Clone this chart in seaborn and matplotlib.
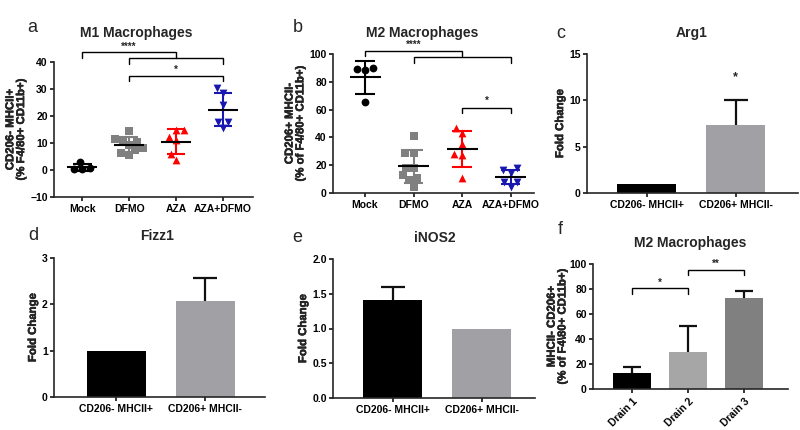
import numpy as np
import pandas as pd
import matplotlib
matplotlib.use("Agg")
import matplotlib.pyplot as plt
import matplotlib.patheffects as pe
import seaborn as sns

# ---------------- data ----------------
groups = ["Mock", "DFMO", "AZA", "AZA+DFMO"]
m1_mock = [0.2, 0.4, 0.6, 3.0]
m1_dfmo = [14.6, 11.4, 11.1, 10.5, 9.3, 8.0, 7.4, 6.4, 5.6]
m1_aza = [14.8, 14.8, 12.3, 11.1, 5.9, 3.7]
m1_aza_dfmo = [30.2, 28.4, 24.1, 17.8, 17.8, 15.5]
m2_mock = [88.5, 89.0, 90.0, 65.5]
m2_dfmo = [41.2, 28.5, 28.5, 18.2, 18.2, 12.9, 10.5, 9.3, 4.5]
m2_aza = [47.0, 43.0, 35.0, 28.0, 27.5, 10.6]
m2_aza_dfmo = [16.5, 17.7, 14.2, 8.1, 8.1, 4.5]

gene_groups = ["CD206- MHCII+", "CD206+ MHCII-"]
arg1_mean = [1.0, 7.37]
arg1_err = [0.0, 2.63]
fizz1_mean = [1.0, 2.07]
fizz1_err = [0.0, 0.50]
inos2_mean = [1.41, 1.0]
inos2_err = [0.18, 0.0]

drains = ["Drain 1", "Drain 2", "Drain 3"]
drain_mean = [12.5, 29.5, 73.0]
drain_err = [5.3, 21.2, 5.4]

# ---------------- style ----------------
sns.set_theme(style="ticks")
plt.rcParams["font.family"] = ["Liberation Sans", "DejaVu Sans"]
plt.rcParams["axes.linewidth"] = 1.2
plt.rcParams["xtick.major.width"] = 1.1
plt.rcParams["ytick.major.width"] = 1.1
plt.rcParams["xtick.major.size"] = 3
plt.rcParams["ytick.major.size"] = 3
plt.rcParams["xtick.major.pad"] = 2
plt.rcParams["ytick.major.pad"] = 1.5

W, H = 800, 430
fig = plt.figure(figsize=(8, 4.3), dpi=100)
fig.patch.set_facecolor("white")


def box(l, t, r, b):
    return [l / W, 1 - b / H, (r - l) / W, (b - t) / H]


def ftext(x, y, s, **kw):
    fig.text(x / W, 1 - y / H, s, ha="center", va="center", **kw)


group_colors = ["black", "#808080", "#ff0000", "#1818b0"]
group_markers = ["o", "s", "^", "v"]
TICK_FS = 7.5
LAB_FS = 8.2
TITLE_FS = 10
STROKE = [pe.withStroke(linewidth=0.35, foreground="black")]


def style_axis(ax, ylabel, labelpad=3):
    sns.despine(ax=ax)
    for lab in ax.get_xticklabels() + ax.get_yticklabels():
        lab.set_fontweight("bold")
        lab.set_fontsize(TICK_FS)
    ax.tick_params(colors="black", direction="out")
    ax.set_xlabel("")
    ax.set_ylabel(ylabel, labelpad=labelpad)
    ax.yaxis.label.set_fontweight("bold")
    ax.yaxis.label.set_fontsize(LAB_FS)
    ax.yaxis.label.set_linespacing(1.1)
    ax.yaxis.label.set_path_effects(STROKE)


def scatter_panel(ax, data_lists, ylim, yticks, ylabel):
    rows = []
    for g, vals in zip(groups, data_lists):
        for v in vals:
            rows.append((g, v))
    df = pd.DataFrame(rows, columns=["group", "value"])
    for i, g in enumerate(groups):
        sub = df[df["group"] == g]
        sns.swarmplot(data=sub, x="group", y="value", order=groups,
                      color=group_colors[i], marker=group_markers[i],
                      size=5.6, linewidth=0, ax=ax, zorder=4)
    for i, vals in enumerate(data_lists):
        m = np.mean(vals)
        s = np.std(vals, ddof=1)
        c = group_colors[i]
        ax.hlines(m, i - 0.32, i + 0.32, color="black", lw=1.5, zorder=5)
        ax.vlines(i, m - s, m + s, color=c, lw=1.5, zorder=3)
        ax.hlines([m - s, m + s], i - 0.2, i + 0.2, color=c, lw=1.5, zorder=3)
    ax.set_ylim(*ylim)
    ax.set_yticks(yticks)
    style_axis(ax, ylabel)


def bracket(ax, x1, x2, y, drop, text=None, tdy=0, lw=1.0, fs=7):
    ax.plot([x1, x1, x2, x2], [y - drop, y, y, y - drop], color="black",
            lw=lw, clip_on=False, solid_joinstyle="miter")
    if text:
        ax.text((x1 + x2) / 2, y + tdy, text, ha="center", va="bottom",
                fontsize=fs, fontweight="bold", clip_on=False)


def bar_panel(ax, cats, means, errs, colors, ylim, yticks, ylabel, width, capw,
              labelpad=3):
    sns.barplot(x=cats, y=means, hue=cats, palette=colors, legend=False,
                width=width, saturation=1, linewidth=0, ax=ax, zorder=2)
    for i, (m, e) in enumerate(zip(means, errs)):
        if e > 0:
            ax.vlines(i, m, m + e, color="#111111", lw=1.6, zorder=1)
            ax.hlines(m + e, i - capw, i + capw, color="#111111", lw=1.6, zorder=1)
    ax.set_ylim(*ylim)
    ax.set_yticks(yticks)
    style_axis(ax, ylabel, labelpad)


# ---------------- panel a ----------------
axa = fig.add_axes(box(54, 62, 253, 197))
scatter_panel(axa, [m1_mock, m1_dfmo, m1_aza, m1_aza_dfmo], (-10, 40),
              [-10, 0, 10, 20, 30, 40], "CD206- MHCII+\n(% F4/80+ CD11b+)")
axa.set_xlim(-0.6, 3.64)
bracket(axa, 1, 3, 41.4, 2.0)
bracket(axa, 0, 2, 43.6, 2.2, "****", tdy=0.2)
bracket(axa, 1, 3, 34.8, 1.8, "*", tdy=0.4)

# ---------------- panel b ----------------
axb = fig.add_axes(box(333, 54, 534, 193))
scatter_panel(axb, [m2_mock, m2_dfmo, m2_aza, m2_aza_dfmo], (0, 100),
              [0, 20, 40, 60, 80, 100], "CD206+ MHCII-\n(% of F4/80+ CD11b+)")
axb.set_xlim(-0.66, 3.48)
bracket(axb, 1, 3, 98.1, 4.8)
bracket(axb, 0, 2, 102.4, 3.8, "****", tdy=0.5)
bracket(axb, 2, 3, 61.4, 3.6, "*", tdy=1.0)

# ---------------- panel c ----------------
axc = fig.add_axes(box(587, 54, 798, 193))
bar_panel(axc, gene_groups, arg1_mean, arg1_err, ["black", "#a1a1a5"],
          (0, 15), [0, 5, 10, 15], "Fold Change", 0.66, 0.135)
axc.set_xlim(-0.67, 1.70)
axc.text(1, 11.9, "*", ha="center", va="bottom", fontsize=9, fontweight="bold")

# ---------------- panel d ----------------
axd = fig.add_axes(box(54, 258, 265, 397))
bar_panel(axd, gene_groups, fizz1_mean, fizz1_err, ["black", "#a1a1a5"],
          (0, 3), [0, 1, 2, 3], "Fold Change", 0.66, 0.135)
axd.set_xlim(-0.70, 1.67)

# ---------------- panel e ----------------
axe = fig.add_axes(box(333, 259, 535, 398))
bar_panel(axe, gene_groups, inos2_mean, inos2_err, ["black", "#a1a1a5"],
          (0, 2), [0, 0.5, 1.0, 1.5, 2.0], "Fold Change", 0.66, 0.135)
axe.set_yticklabels(["0.0", "0.5", "1.0", "1.5", "2.0"], fontweight="bold",
                    fontsize=TICK_FS)
axe.set_xlim(-0.67, 1.60)

# ---------------- panel f ----------------
axf = fig.add_axes(box(593, 264, 788, 389))
bar_panel(axf, drains, drain_mean, drain_err, ["black", "#a6a6a6", "#808080"],
          (0, 100), [0, 20, 40, 60, 80, 100],
          "MHCII- CD206+\n(% of F4\\80+ CD11b+)", 0.68, 0.16, labelpad=1.5)
axf.set_xlim(-0.70, 2.79)
for lab in axf.get_xticklabels():
    lab.set_rotation(45)
    lab.set_ha("right")
    lab.set_rotation_mode("anchor")
bracket(axf, 0, 1, 80.5, 4.5, "*", tdy=0.8)
bracket(axf, 1, 2, 95.2, 4.0, "**", tdy=0.8)

# ---------------- titles & panel letters ----------------
tkw = dict(fontsize=TITLE_FS, fontweight="bold")
ftext(136, 33, "M1 Macrophages", **tkw)
ftext(422, 33, "M2 Macrophages", **tkw)
ftext(692, 33, "Arg1", **tkw)
ftext(157, 236, "Fizz1", **tkw)
ftext(435, 238, "iNOS2", **tkw)
ftext(690, 243, "M2 Macrophages", **tkw)

lkw = dict(fontsize=13)
ftext(32, 27, "a", **lkw)
ftext(298, 27, "b", **lkw)
ftext(561, 33, "c", **lkw)
ftext(33, 236, "d", **lkw)
ftext(297, 238, "e", **lkw)
ftext(560, 230, "f", **lkw)

fig.savefig("out.png", dpi=100, facecolor="white")
